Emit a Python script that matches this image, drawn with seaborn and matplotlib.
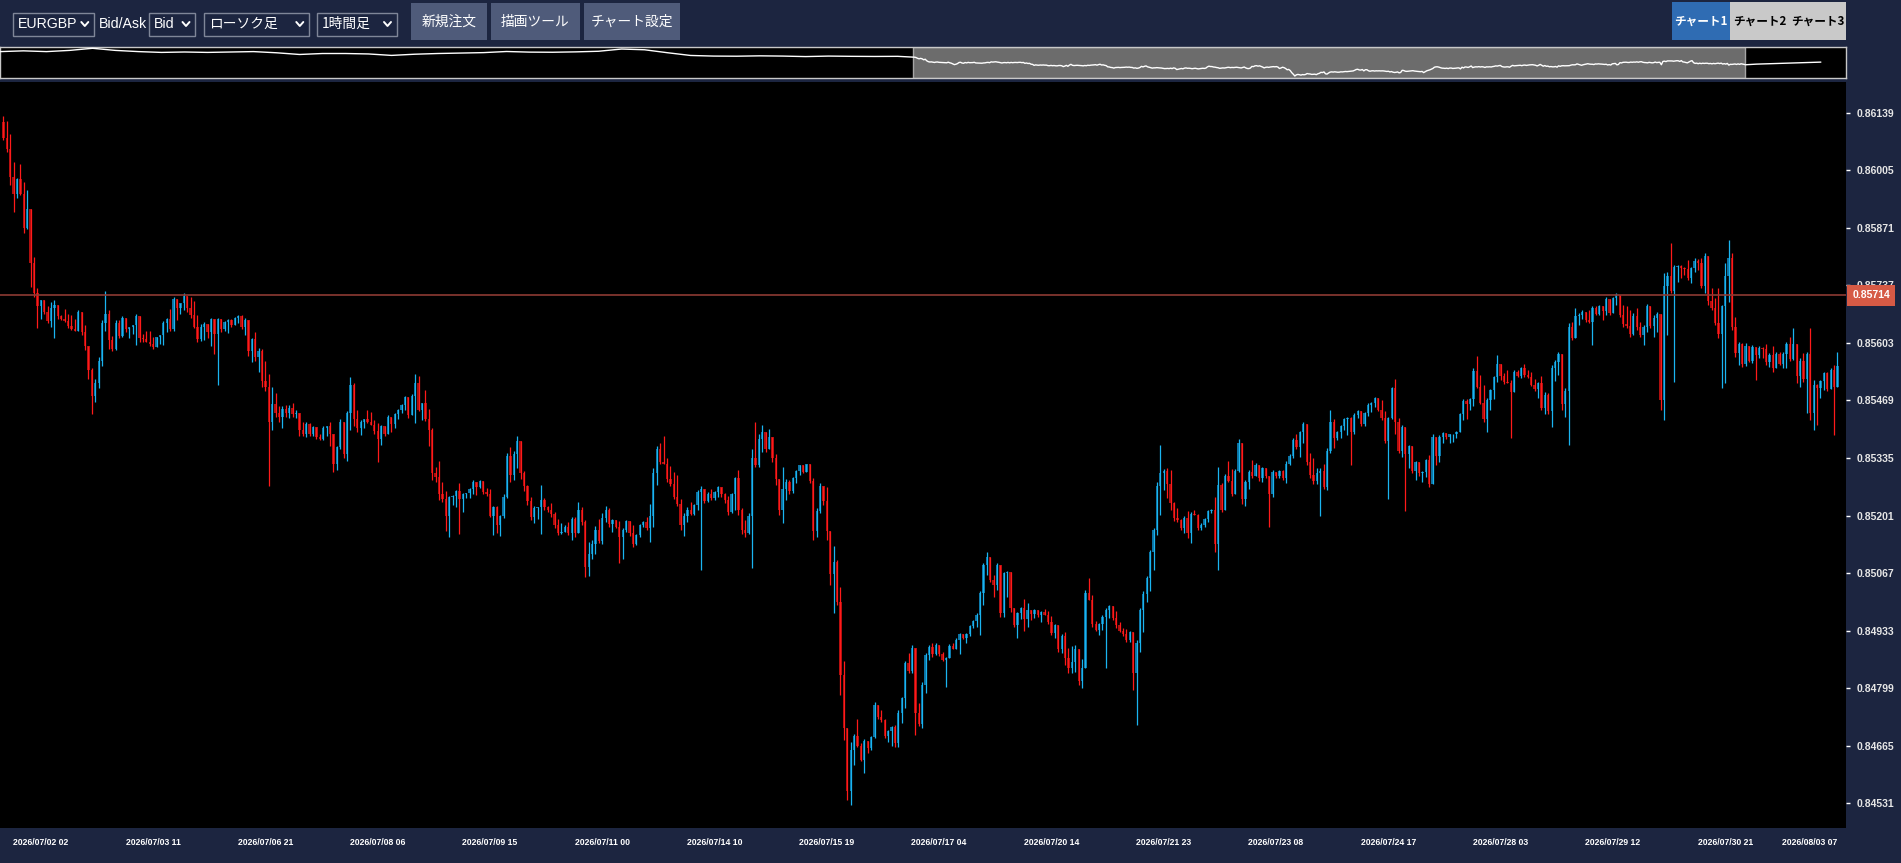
import numpy as np
import matplotlib
matplotlib.use("Agg")
import matplotlib.pyplot as plt
import seaborn as sns
from matplotlib.patches import Rectangle
from matplotlib.transforms import blended_transform_factory

# prices are stored as points: price = 0.84000 + pts * 0.00001
BASE = 0.84
PT = 1e-5

first_open = 2118
close_pts = [
    # 07/01 15 -> 07/03
    2080, 2055, 1990, 1950, 1985, 1950, 1870, 1915, 1790, 1720, 1690, 1702, 1675, 1655, 1685,
    1692, 1665, 1658, 1655, 1642, 1636, 1630, 1675, 1628, 1595, 1540, 1480, 1510, 1560, 1650,
    1670, 1610, 1590, 1650, 1620, 1662, 1635, 1640, 1645, 1665, 1615, 1612, 1606, 1600, 1594,
    1616, 1622, 1650, 1660, 1635, 1705, 1685, 1695, 1712, 1685, 1668, 1640, 1612, 1640, 1648,
    1628, 1658, 1625, 1658, 1635, 1652, 1657, 1645, 1662, 1666, 1640, 1656, 1585, 1612, 1570,
    1585, 1515, 1500, 1420, 1460, 1440, 1430, 1450, 1440, 1452, 1438, 1440,
    # 07/07 -> 07/10
    1400, 1392, 1415, 1392, 1407, 1385, 1380, 1406, 1410, 1390, 1320, 1360, 1420, 1345, 1440,
    1505, 1425, 1405, 1420, 1426, 1418, 1413, 1398, 1380, 1410, 1392, 1430, 1415, 1438, 1447,
    1458, 1476, 1435, 1480, 1510, 1448, 1462, 1425, 1400, 1300, 1290, 1250, 1240, 1200, 1243,
    1247, 1257, 1240, 1252, 1254, 1262, 1280, 1268, 1281, 1255, 1250, 1200, 1220, 1180, 1200,
    1245, 1340, 1295, 1345, 1375, 1300, 1270, 1235, 1198, 1218, 1220, 1238, 1222, 1213, 1205,
    1178, 1160,
    # 07/10 -> 07/15
    1163, 1175, 1160, 1192, 1160, 1215, 1185, 1080, 1112, 1135, 1168, 1142, 1195, 1215, 1182,
    1190, 1175, 1150, 1168, 1188, 1160, 1135, 1155, 1178, 1186, 1172, 1200, 1300, 1355, 1325,
    1322, 1285, 1275, 1245, 1228, 1178, 1200, 1215, 1205, 1225, 1255, 1262, 1235, 1252, 1242,
    1256, 1268, 1250, 1238, 1210, 1250, 1288, 1215, 1168, 1160, 1200, 1335, 1318, 1380, 1395,
    1355, 1385, 1335, 1285, 1215, 1262, 1280, 1258, 1288, 1305,
    # 07/15 -> 07/20
    1318, 1302, 1320, 1282, 1165, 1212, 1270, 1235, 1165, 1065, 1092, 1000, 830, 705, 560,
    655, 688, 665, 632, 676, 660, 685, 760, 732, 724, 688, 700, 708, 670, 740,
    775, 858, 838, 892, 740, 715, 805, 875, 895, 878, 900, 878, 865, 870, 898,
    890, 912, 925, 915, 926, 944, 956, 970, 1020, 1085, 1105, 1050, 1040, 1085, 975,
    1068, 1070, 985, 945, 975, 985, 960, 980, 972, 980, 970, 977, 970,
    # 07/20 -> 07/24
    952, 928, 945, 890, 920, 870, 845, 860, 890, 815, 845, 1020, 1005, 948, 935,
    948, 965, 982, 990, 962, 945, 933, 924, 910, 930, 835, 905, 980, 1018, 1055,
    1115, 1168, 1270, 1300, 1305, 1275, 1230, 1195, 1190, 1172, 1195, 1160, 1205, 1203, 1172,
    1180, 1192, 1212, 1215, 1135, 1272, 1215, 1292, 1282, 1252, 1305, 1370, 1240, 1280, 1303,
    1292, 1318, 1288, 1312, 1292, 1252, 1302, 1292, 1304, 1288, 1322, 1340, 1378,
    # 07/24 -> 07/29
    1360, 1395, 1415, 1325, 1295, 1282, 1300, 1305, 1268, 1352, 1420, 1382, 1395, 1410, 1425,
    1428, 1395, 1435, 1445, 1415, 1440, 1458, 1463, 1474, 1448, 1428, 1375, 1428, 1498, 1420,
    1352, 1408, 1345, 1362, 1305, 1325, 1300, 1302, 1330, 1275, 1385, 1340, 1385, 1393, 1383,
    1390, 1391, 1396, 1438, 1468, 1460, 1472, 1538, 1500, 1462, 1425, 1470, 1493, 1523, 1555,
    1525, 1512, 1510, 1488, 1535, 1526, 1545, 1528, 1523, 1506, 1495, 1510, 1452, 1482, 1445,
    # 07/29 -> 08/03
    1545, 1558, 1578, 1460, 1490, 1640, 1615, 1665, 1668, 1676, 1656, 1652, 1685, 1670, 1688,
    1678, 1705, 1672, 1708, 1715, 1668, 1648, 1642, 1625, 1665, 1640, 1622, 1640, 1688, 1642,
    1662, 1670, 1470, 1735, 1760, 1725, 1780, 1782, 1778, 1776, 1755, 1778, 1795, 1790, 1735,
    1805, 1700, 1685, 1650, 1625, 1690, 1760, 1800, 1640, 1580, 1600, 1555, 1595, 1562, 1594,
    1575, 1592, 1590, 1558, 1575, 1545, 1578, 1555, 1578, 1600, 1565, 1600, 1525, 1560, 1520,
    1578, 1440, 1505, 1498, 1515, 1532, 1495, 1540, 1500, 1550,
]
# wick length above the body / below the body, in points
wick_up = [
    14, 40, 36, 35, 2, 36, 27, 44, 0, 14, 12, 1, 0, 13, 14, 11, 0, 3, 24, 15, 26, 24, 4, 0, 17,
    0, 5, 10, 10, 6, 54, 10, 10, 6, 6, 4, 0, 1, 1, 5, 0, 10, 19, 25, 18,
    2, 0, 4, 2, 22, 6, 1, 0, 8, 0, 26, 33, 28, 7, 3, 0, 3, 0, 3, 0, 2, 2, 1, 2, 2,
    2, 5, 0, 2, 16, 6, 4, 46, 30, 40, 26, 15, 6, 8, 6, 10, 8,
    0, 20, 4, 2, 2, 0, 5, 3, 0, 8, 2, 3, 5, 0, 5, 19, 4, 23, 3, 1, 20, 25, 10, 19, 3,
    0, 6, 0, 2, 2, 2, 3, 0, 5, 20, 16, 2, 31, 25, 4, 14, 38, 30, 18, 3, 1, 3, 19, 2, 0,
    2, 3, 0, 2, 0, 9, 12, 3, 3, 2, 6, 6, 20, 7, 11, 0, 5, 1, 8, 5, 1, 34, 4, 1, 18, 5, 16,
    20, 4, 11, 6, 6, 18, 6, 5, 28, 10, 8, 26, 11, 8, 3, 2, 0, 13, 3, 2, 0, 19, 3, 3, 2,
    12, 29, 11, 8, 16, 61, 12, 31, 28, 50, 11, 6, 6, 18, 4, 5, 8, 0, 4, 10, 3, 2, 0, 4, 8,
    4, 2, 20, 3, 22, 6, 20, 85, 12, 17, 0, 17, 0, 9, 0, 53, 5, 4, 2, 3,
    1, 0, 1, 0, 6, 6, 6, 0, 32, 0, 38, 5, 34, 31, 0, 19, 4, 38, 5, 4, 0, 2, 7, 0, 16,
    2, 1, 3, 5, 8, 4, 3, 22, 7, 0, 25, 9, 5, 4, 8, 3, 0, 4, 2, 4, 5, 3, 2, 0, 2,
    2, 2, 3, 4, 5, 12, 0, 13, 6, 0, 2, 2, 0, 0, 2, 2, 21, 17, 1, 3, 1, 2, 6,
    9, 14, 3, 0, 4, 9, 22, 36, 9, 0, 22, 8, 35, 11, 7, 2, 4, 3, 3, 0, 17, 9, 5, 13, 2,
    0, 6, 5, 6, 4, 6, 5, 9, 65, 5, 7, 32, 2, 23, 3, 6, 17, 5, 9, 1, 3, 3, 2, 1, 30,
    41, 4, 5, 36, 28, 5, 9, 1, 4, 4, 27, 5, 0, 3, 0, 0, 5, 0, 3, 3, 6, 4, 3,
    12, 3, 5, 0, 21, 39, 12, 6, 15, 7, 27, 6, 3, 3, 4, 3, 3, 4, 2, 0, 3, 4, 3, 2, 0,
    22, 16, 3, 3, 21, 9, 5, 0, 3, 0, 3, 1, 3, 3, 13, 5, 0, 4, 3, 0, 2, 1, 2, 3, 4,
    5, 2, 6, 35, 28, 43, 4, 3, 4, 21, 0, 7, 28, 7, 5, 5, 3, 8, 12, 12, 13, 3, 17, 6, 4,
    7, 5, 5, 0, 7, 9, 13, 19, 4, 4, 0, 24, 3, 3, 4, 2, 6, 0, 3, 4, 0, 24, 40, 38, 7,
    19, 13, 5, 5, 2, 6, 6, 0, 30, 9, 75, 5, 3, 3, 3, 21, 3, 5, 3, 10, 7, 0, 30, 22, 80,
    2, 29, 43, 12, 24, 6, 2, 7, 0, 4, 0, 5, 2, 11, 4, 22, 5, 5, 5, 6, 18, 37, 0, 7, 19,
    5, 59, 12, 3, 2, 4, 4, 4, 12, 31,
]
wick_dn = [
    4, 6, 19, 43, 10, 2, 10, 2, 56, 9, 51, 30, 5, 6, 14, 71, 5, 2, 2, 5, 3, 0, 0, 7, 8,
    20, 43, 15, 12, 10, 20, 20, 5, 3, 6, 3, 6, 21, 15, 47, 9, 6, 0, 4, 4,
    0, 16, 24, 22, 4, 4, 28, 15, 15, 10, 6, 3, 7, 4, 30, 13, 33, 48, 120, 7, 4, 25, 4, 0, 13,
    4, 18, 12, 27, 10, 34, 14, 9, 150, 20, 10, 10, 25, 10, 12, 8, 10,
    14, 6, 8, 6, 6, 6, 2, 3, 20, 27, 17, 13, 3, 11, 16, 40, 16, 9, 17, 16, 1, 1, 6, 54, 15,
    6, 0, 19, 11, 11, 7, 12, 6, 0, 63, 4, 25, 4, 37, 17, 11, 13, 7, 35, 49, 18, 26, 82, 30, 11,
    13, 10, 20, 4, 3, 4, 2, 45, 19, 27, 4, 3, 15, 12, 34, 13, 11, 10, 8, 14, 24, 61, 8, 3, 7, 7, 5,
    2, 0, 5, 16, 8, 0, 6, 22, 20, 13, 24, 4, 8, 8, 7, 19, 4, 59, 51, 5, 7, 8, 3, 3, 3,
    5, 32, 25, 28, 4, 1, 5, 5, 6, 5, 11, 25, 13, 3, 3, 11, 181, 4, 2, 5, 5, 11, 7, 7, 8,
    4, 36, 13, 9, 8, 1, 122, 3, 3, 30, 5, 0, 9, 13, 13, 31, 25, 7, 5, 12,
    9, 3, 0, 6, 21, 13, 6, 9, 21, 26, 92, 7, 47, 27, 22, 33, 35, 3, 4, 32, 13, 6, 3, 6, 3,
    6, 14, 36, 8, 9, 23, 23, 5, 5, 50, 4, 10, 18, 11, 7, 2, 4, 4, 63, 2, 1, 1, 33, 2, 12,
    6, 6, 14, 47, 27, 22, 5, 28, 12, 11, 10, 56, 8, 4, 30, 15, 27, 18, 14, 10, 5, 16, 1,
    4, 5, 13, 6, 10, 17, 12, 12, 24, 9, 15, 0, 1, 6, 4, 12, 14, 120, 20, 4, 5, 4, 3, 4, 4,
    40, 122, 21, 51, 18, 31, 41, 12, 68, 40, 34, 16, 7, 3, 5, 11, 12, 22, 1, 5, 5, 5, 7, 6, 18,
    61, 5, 0, 3, 5, 1, 3, 13, 16, 17, 3, 0, 6, 9, 4, 77, 9, 3, 3, 4, 12, 3, 4,
    3, 22, 26, 6, 7, 8, 8, 100, 5, 8, 6, 23, 5, 14, 10, 36, 76, 3, 6, 5, 5, 7, 16, 9, 4,
    5, 6, 136, 1, 28, 6, 14, 134, 33, 6, 21, 6, 22, 11, 7, 0, 21, 15, 14, 4, 14, 17, 10, 0, 15,
    33, 13, 15, 3, 2, 5, 30, 23, 21, 10, 8, 5, 1, 107, 0, 2, 5, 4, 2, 3, 4, 20, 5, 15, 8,
    37, 30, 30, 13, 29, 125, 5, 0, 20, 10, 3, 3, 54, 2, 2, 21, 10, 4, 0, 16, 4, 7, 5, 7, 3,
    7, 4, 24, 11, 5, 24, 33, 23, 46, 113, 6, 212, 36, 24, 15, 5, 13, 9, 17, 5, 15, 8, 5, 5, 11,
    128, 181, 61, 7, 9, 28, 9, 5, 4, 5, 58, 8, 21, 6, 10, 9, 1, 3, 11, 34, 5, 2, 16, 24, 7,
    81, 16, 40, 86, 24, 22, 5, 0, 111, 0,
]

# navigator history outside the visible window (points)
nav_before = [2532, 2593, 2532, 2629, 2800, 2629, 2532, 2467, 2500, 2467,
              2500, 2532, 2437, 2300, 2378, 2378, 2342, 2225, 2320, 2378,
              2410, 2450, 2540, 2490, 2480, 2510, 2560, 2740, 2680, 2440,
              2220, 2170, 2160, 2190, 2170, 2130, 2170, 2150, 2140, 2150]
nav_after = [1470, 1520, 1546, 1580, 1603, 1627, 1650, 1683]

y_ticks = [0.86139, 0.86005, 0.85871, 0.85737, 0.85603, 0.85469, 0.85335,
           0.85201, 0.85067, 0.84933, 0.84799, 0.84665, 0.84531]
x_labels = ['2026/07/02 02', '2026/07/03 11', '2026/07/06 21', '2026/07/08 06',
            '2026/07/09 15', '2026/07/11 00', '2026/07/14 10', '2026/07/15 19',
            '2026/07/17 04', '2026/07/20 14', '2026/07/21 23', '2026/07/23 08',
            '2026/07/24 17', '2026/07/28 03', '2026/07/29 12', '2026/07/30 21',
            '2026/08/03 07']
line_price = 0.85714

dropdowns = ['EURGBP', 'Bid', 'ローソク足', '1時間足']
buttons = ['新規注文', '描画ツール', 'チャート設定']
tabs = ['チャート1', 'チャート2', 'チャート3']

assert len(close_pts) == len(wick_up) == len(wick_dn)

# ---------------------------------------------------------------
W, H = 1901, 863
BG = '#1c2540'
JP = ['Noto Sans CJK JP', 'DejaVu Sans']
LAT = ['Liberation Sans', 'DejaVu Sans']

sns.set_theme(style='dark')
plt.rcParams['font.family'] = JP

fig = plt.figure(figsize=(W / 100, H / 100), dpi=100, facecolor=BG)


def frect(x0, y0, x1, y1):
    """pixel box (y downwards) -> figure fraction rect"""
    return [x0 / W, 1 - y1 / H, (x1 - x0) / W, (y1 - y0) / H]


# overlay in pixel coords for the toolbar
hud = fig.add_axes([0, 0, 1, 1], zorder=0)
hud.set_xlim(0, W)
hud.set_ylim(H, 0)
hud.axis('off')


def chevron(cx, cy):
    hud.plot([cx - 3.5, cx, cx + 3.5], [cy - 2, cy + 2, cy - 2], color='white',
             lw=1.4, solid_capstyle='round', solid_joinstyle='round')


dd_boxes = [(12.6, 93.8), (149, 195), (203.6, 308.8), (317, 396.5)]
for label, (x0, x1) in zip(dropdowns, dd_boxes):
    hud.add_patch(Rectangle((x0, 12.6), x1 - x0, 23, fc=BG, ec='#7f8698', lw=1))
    fam = JP if any(ord(ch) > 127 for ch in label) else LAT
    size = 9.9 if fam is JP else 10.2
    hud.text(x0 + 5, 24.2, label, color='white', fontsize=size, family=fam,
             ha='left', va='center')
    chevron(x1 - 9, 24)
hud.text(98.7, 24.2, 'Bid/Ask', color='white', fontsize=10.2, family=LAT,
         ha='left', va='center')

btn_boxes = [(411, 487), (490.6, 580), (583.6, 680)]
for label, (x0, x1) in zip(buttons, btn_boxes):
    hud.add_patch(Rectangle((x0, 3), x1 - x0, 37.5, fc='#4f5b7a', ec='none'))
    hud.text((x0 + x1) / 2, 22, label, color='white', fontsize=9.9,
             ha='center', va='center')

hud.add_patch(Rectangle((1672, 2), 58, 38, fc='#2f6cb3', ec='none'))
hud.add_patch(Rectangle((1730, 2), 116, 38, fc='#c9c9c9', ec='none'))
for label, cx, col in zip(tabs, [1701, 1759.5, 1818], ['white', 'black', 'black']):
    hud.text(cx, 21.5, label, color=col, fontsize=8.4, fontweight='bold',
             ha='center', va='center')

# ---------------------------------------------------------------
c = BASE + np.array(close_pts) * PT
o = np.r_[BASE + first_open * PT, c[:-1]]
hi = np.maximum(o, c) + np.array(wick_up) * PT
lo = np.minimum(o, c) - np.array(wick_dn) * PT
n = len(c)
idx = np.arange(n)
rising = c >= o

ax = fig.add_axes(frect(0, 82, 1846, 828), zorder=2)
ax.set_facecolor('black')
ax.bar(idx, np.maximum(np.abs(c - o), 1.2 * PT), bottom=np.minimum(o, c), width=0.68,
       color=np.where(rising, '#0c72a2', '#ad0e0e'), linewidth=0, zorder=2)
ax.vlines(idx, lo, hi, colors=np.where(rising, '#1ab4f0', '#ff1a1a'), lw=0.9, zorder=3)

ax.axhline(line_price, color='#8d3a33', lw=1.2, zorder=4)
ax.set_xlim(-1, 541.5)
ax.set_ylim(0.84473, 0.86211)
ax.grid(False)
for s in ax.spines.values():
    s.set_visible(False)

ax.yaxis.tick_right()
ax.set_yticks(y_ticks)
ax.set_yticklabels([f'{v:.5f}' for v in y_ticks])
ax.tick_params(axis='y', colors='white', length=3, width=1, pad=4.3,
               labelsize=7.5, labelcolor='#e6e6e6')
ax.set_xticks(np.arange(11, n, 33))
ax.set_xticklabels(x_labels)
ax.tick_params(axis='x', colors='white', length=3, width=1, pad=4,
               labelsize=6.2, labelcolor='white')
for t in ax.get_xticklabels() + ax.get_yticklabels():
    t.set_fontweight('bold')
    t.set_family(LAT)
ax.get_xticklabels()[-1].set_ha('right')

tr = blended_transform_factory(ax.transAxes, ax.transData)
ax.text(1.0035, line_price, f'{line_price:.5f}', transform=tr, ha='left', va='center',
        fontsize=7.5, fontweight='bold', family=LAT, color='white', zorder=10,
        bbox=dict(boxstyle='square,pad=0.5', fc='#d65a45', ec='none'))

# ---------------------------------------------------------------
nav = fig.add_axes(frect(0, 47, 1846, 78), zorder=2)
nav.set_facecolor('black')
ntr = blended_transform_factory(nav.transData, nav.transAxes)
nav.add_patch(Rectangle((-1, 0), 542.5, 1, transform=ntr, fc='#6c6c6c',
                        ec='#a5a5a5', lw=1, zorder=1))
nav_x = np.r_[np.linspace(-596, -11, len(nav_before)), idx,
              np.linspace(542, 591, len(nav_after))]
nav_y = np.r_[nav_before, close_pts, nav_after]
sns.lineplot(x=nav_x, y=nav_y, ax=nav, color='white', lw=1.0, sort=False,
             estimator=None, legend=False, zorder=3)
nav.set_xlim(-596.3, 607.4)
nav.set_ylim(399, 2904)
nav.set_xticks([])
nav.set_yticks([])
nav.set_xlabel('')
nav.set_ylabel('')
nav.grid(False)
for s in nav.spines.values():
    s.set_visible(True)
    s.set_color('#c8c8c8')
    s.set_linewidth(1)

fig.savefig('out.png', dpi=100, facecolor=BG)
